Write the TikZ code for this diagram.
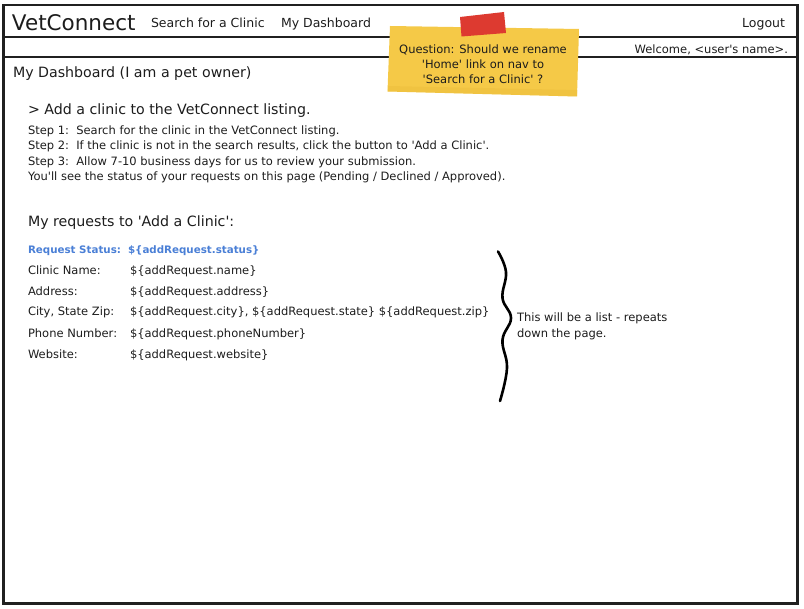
\documentclass[tikz,border=0pt]{standalone}
\usepackage{fontspec}
\setmainfont{DejaVu Sans}
\newcommand{\sq}{\textquotesingle}
\definecolor{ink}{HTML}{1C1C1C}
\definecolor{framec}{HTML}{202020}
\definecolor{linkblue}{HTML}{4A7FD6}
\definecolor{notey}{HTML}{F5C947}
\definecolor{noteedge}{HTML}{E9BA38}
\definecolor{tape}{HTML}{DD3A30}
\begin{document}
\begin{tikzpicture}[x=1pt,y=-1pt,
  every node/.style={inner sep=0pt, outer sep=0pt, text=ink},
  frameline/.style={draw=framec, line width=2.6pt},
  sepline/.style={draw=framec, line width=2pt},
  logo/.style={font=\fontsize{21.5}{24}\selectfont, anchor=base west},
  navtext/.style={font=\fontsize{12.5}{15}\selectfont},
  titletext/.style={font=\fontsize{14.2}{17}\selectfont, anchor=base west},
  smalltext/.style={font=\fontsize{11.5}{13.5}\selectfont, anchor=base west},
  bluetext/.style={font=\fontsize{10.3}{13}\bfseries, text=linkblue, anchor=base west},
  notetext/.style={font=\fontsize{11.5}{13.5}\selectfont, anchor=base},
  bracestroke/.style={draw=black, line width=2.6pt, line cap=round, line join=round}
]
\useasboundingbox (0,0) rectangle (804,609);

% outer frame and header separators
\draw[frameline] (3.5,5) rectangle (797.5,603.5);
\draw[sepline] (3.5,37.5) -- (797.5,37.5);
\draw[sepline] (3.5,57.5) -- (797.5,57.5);

% header
\node[logo] (logo) at (12,31) {VetConnect};
\node[navtext, anchor=base west] (search) at (151,27.8) {Search for a Clinic};
\node[navtext, anchor=base west] (dash) at (281,27.8) {My Dashboard};
\node[navtext, anchor=base east] (logout) at (785,27.8) {Logout};
\node[smalltext, anchor=base east] (welcome) at (788,53.5) {Welcome, <user\sq s name>.};

% page title
\node[titletext] (pagetitle) at (13,77.5) {My Dashboard (I am a pet owner)};

% sticky note
\fill[notey] (390,26) -- (579,29) -- (577,96.5) -- (387.5,91.5) -- cycle;
\fill[noteedge, opacity=0.35] (387.5,91.5) -- (577,96.5) -- (577.5,90) -- (388,86) -- cycle;
\fill[tape] (460,17) -- (504,12) -- (506,33) -- (461.5,36.5) -- cycle;
\node[notetext] (q1) at (483,53.5) {Question: Should we rename};
\node[notetext] (q2) at (483,68.5) {\sq Home\sq{} link on nav to};
\node[notetext] (q3) at (483,83.5) {\sq Search for a Clinic\sq{} ?};

% add a clinic section
\node[titletext] (addtitle) at (28,115) {> Add a clinic to the VetConnect listing.};
\node[smalltext] (s1) at (28,134.5) {Step 1:\ \ Search for the clinic in the VetConnect listing.};
\node[smalltext] (s2) at (28,150) {Step 2:\ \ If the clinic is not in the search results, click the button to \sq Add a Clinic\sq.};
\node[smalltext] (s3) at (28,165.5) {Step 3:\ \ Allow 7-10 business days for us to review your submission.};
\node[smalltext] (s4) at (28,181) {You\sq ll see the status of your requests on this page (Pending / Declined / Approved).};

% requests
\node[titletext] (reqtitle) at (28,226.5) {My requests to \sq Add a Clinic\sq:};
\node[bluetext] (statusl) at (28,253.5) {Request Status:};
\node[bluetext] (statusv) at (128,253.5) {\$\{addRequest.status\}};
\node[smalltext] (namel) at (28,274.5) {Clinic Name:};
\node[smalltext] (namev) at (130,274.5) {\$\{addRequest.name\}};
\node[smalltext] (addrl) at (28,295.5) {Address:};
\node[smalltext] (addrv) at (130,295.5) {\$\{addRequest.address\}};
\node[smalltext] (cityl) at (28,316) {City, State Zip:};
\node[smalltext] (cityv) at (130,316) {\$\{addRequest.city\}, \$\{addRequest.state\} \$\{addRequest.zip\}};
\node[smalltext] (phonel) at (28,337.5) {Phone Number:};
\node[smalltext] (phonev) at (130,337.5) {\$\{addRequest.phoneNumber\}};
\node[smalltext] (webl) at (28,359) {Website:};
\node[smalltext] (webv) at (130,359) {\$\{addRequest.website\}};

% brace and annotation
\draw[bracestroke] plot[smooth, tension=0.7] coordinates
  {(498,251.5) (506,272) (502.5,298) (511,318) (502.5,340) (507,368) (500,401)};
\node[smalltext] (list1) at (517,321.5) {This will be a list - repeats};
\node[smalltext] (list2) at (517,337.5) {down the page.};
\end{tikzpicture}
\end{document}
